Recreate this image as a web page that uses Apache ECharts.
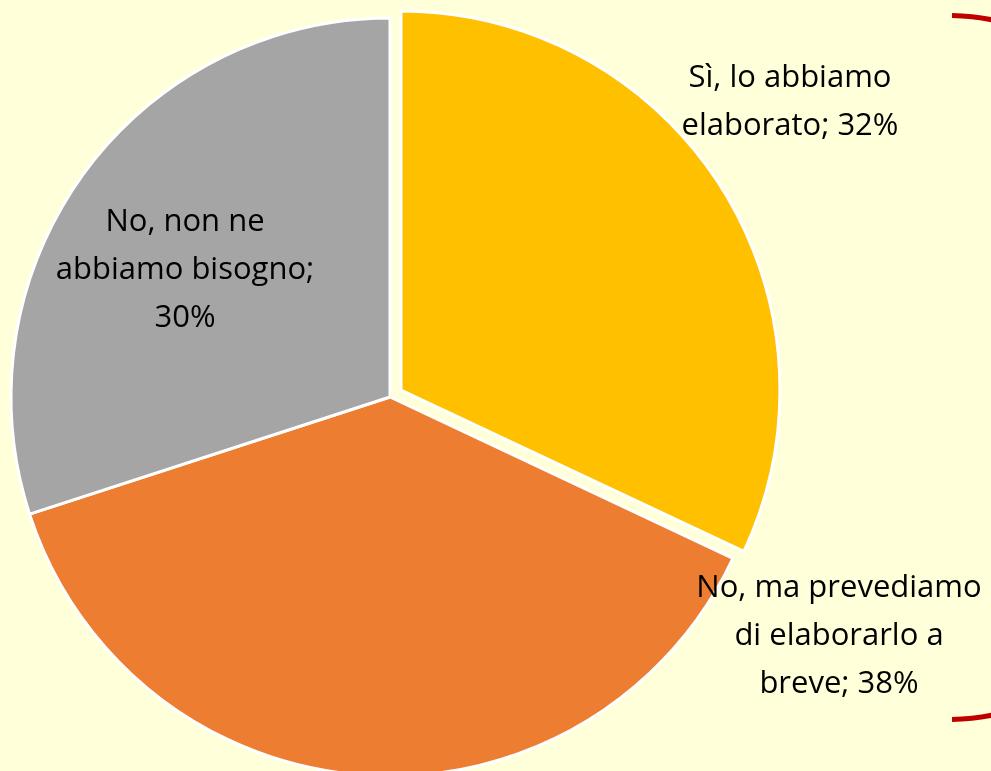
<!DOCTYPE html>
<html>
<head>
<meta charset="utf-8">
<script src="https://cdn.jsdelivr.net/npm/echarts@6/dist/echarts.min.js"></script>
<style>
html, body { margin: 0; padding: 0; background: #FFFFDA; }
#chart { width: 991px; height: 771px; }
</style>
</head>
<body>
<div id="chart"></div>
<script>
var categories = ['Sì, lo abbiamo\nelaborato', 'No, ma prevediamo\ndi elaborarlo a\nbreve', 'No, non ne\nabbiamo bisogno;\n'];
var values = [32, 38, 30];
var colors = ['#FFC000', '#ED7D31', '#A5A5A5'];
var exploded = 0; // index of the slice pulled out

// layout
var center = [390, 397];
var radius = 379;
var explodeDist = 13;
var labelPos = [[790, 102], [839, 636], [185, 270]];

// offset of the exploded slice along its bisector
var total = values.reduce(function (a, b) { return a + b; }, 0);
var before = values.slice(0, exploded).reduce(function (a, b) { return a + b; }, 0);
var mid = (before + values[exploded] / 2) / total * 2 * Math.PI;
var explodedCenter = [center[0] + explodeDist * Math.sin(mid), center[1] - explodeDist * Math.cos(mid)];

var hidden = { color: 'rgba(0,0,0,0)', borderWidth: 0 };

var chart = echarts.init(document.getElementById('chart'));

var option = {
    backgroundColor: '#FFFFDA',
    animation: false,
    graphic: [
        {
            type: 'polyline',
            shape: { points: [[952, 15.5], [972, 16.8], [992, 19.8]], smooth: 0.5 },
            style: { stroke: '#C00000', lineWidth: 5, fill: null }
        },
        {
            type: 'polyline',
            shape: { points: [[952, 719.5], [972, 718.2], [992, 715.2]], smooth: 0.5 },
            style: { stroke: '#C00000', lineWidth: 5, fill: null }
        }
    ],
    series: [
        {
            type: 'pie',
            center: explodedCenter,
            radius: [0, radius],
            startAngle: 90,
            clockwise: true,
            silent: true,
            label: { show: false },
            labelLine: { show: false },
            itemStyle: { borderColor: '#FFFFFF', borderWidth: 3 },
            data: values.map(function (v, i) {
                return {
                    name: categories[i],
                    value: v,
                    itemStyle: i === exploded ? { color: colors[i] } : hidden
                };
            })
        },
        {
            type: 'pie',
            center: center,
            radius: [0, radius],
            startAngle: 90,
            clockwise: true,
            itemStyle: {
                borderColor: '#FFFFFF',
                borderWidth: 3
            },
            labelLine: { show: false },
            label: {
                show: true,
                position: 'inside',
                color: '#000000',
                fontFamily: 'Open Sans',
                fontSize: 31,
                lineHeight: 48,
                align: 'center',
                formatter: function (p) {
                    var sep = p.dataIndex === 2 ? '' : '; ';
                    return p.name + sep + p.value + '%';
                }
            },
            labelLayout: function (p) {
                return {
                    x: labelPos[p.dataIndex][0],
                    y: labelPos[p.dataIndex][1],
                    align: 'center',
                    verticalAlign: 'middle'
                };
            },
            emphasis: { disabled: true },
            data: values.map(function (v, i) {
                return {
                    name: categories[i],
                    value: v,
                    itemStyle: i === exploded ? hidden : { color: colors[i] }
                };
            })
        }
    ]
};

chart.setOption(option);

window.onresize = chart.resize;
</script>
</body>
</html>
